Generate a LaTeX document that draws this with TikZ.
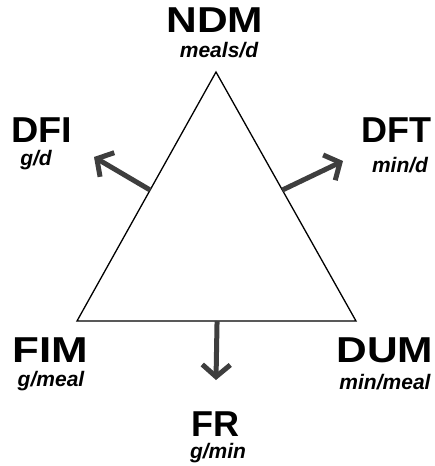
\documentclass[tikz,border=0pt]{standalone}
\usepackage{fontspec}
\setmainfont{Liberation Sans}
\usetikzlibrary{arrows.meta,calc}
\definecolor{arrowgray}{HTML}{3E3E3E}
\tikzset{
  bigname/.style={font=\fontsize{36}{36}\selectfont\bfseries, anchor=base, inner sep=0pt},
  unitname/.style={font=\fontsize{21}{21}\selectfont\bfseries\itshape, anchor=base, inner sep=0pt},
  edge/.style={line width=1.3pt, line join=miter},
  flux/.style={draw=arrowgray, line width=5pt, -{Straight Barb[length=12pt,width=28pt]}}
}
\begin{document}
\begin{tikzpicture}[x=1pt,y=-1pt]
\useasboundingbox (0,0) rectangle (435,466);
\coordinate (apex) at (216,72);
\coordinate (bl) at (77,321);
\coordinate (br) at (356,321);
\draw[edge] (apex) -- (bl) -- (br) -- cycle;
% labels
\node[bigname] (ndm) at (215,32) {\scalebox{1.18}[1]{NDM}};
\node[unitname] (ndmu) at (219,57) {meals/d};
\node[bigname] (dfi) at (42,142) {\scalebox{1.05}[1]{DFI}};
\node[unitname] (dfiu) at (36,165) {g/d};
\node[bigname] (dft) at (396,142) {DFT};
\node[unitname] (dftu) at (400,172) {min/d};
\node[bigname] (fim) at (50,362) {\scalebox{1.22}[1]{FIM}};
\node[unitname] (fimu) at (51,386) {g/meal};
\node[bigname] (dum) at (385,362) {\scalebox{1.18}[1]{DUM}};
\node[unitname] (dumu) at (385,389) {min/meal};
\node[bigname] (fr) at (215,436) {FR};
\node[unitname] (fru) at (218,458) {g/min};
% arrows
\coordinate (dfibase) at ($(apex)!0.474!(bl)$);
\coordinate (dftbase) at ($(apex)!0.474!(br)$);
\coordinate (frbase) at ($(bl)!0.502!(br)$);
\coordinate (dfitip) at (94,157);
\coordinate (dfttip) at (343,161);
\coordinate (frtip) at (216,380);
\draw[flux] (dfibase) -- (dfitip);
\draw[flux] (dftbase) -- (dfttip);
\draw[flux] (frbase) -- (frtip);
\end{tikzpicture}
\end{document}
